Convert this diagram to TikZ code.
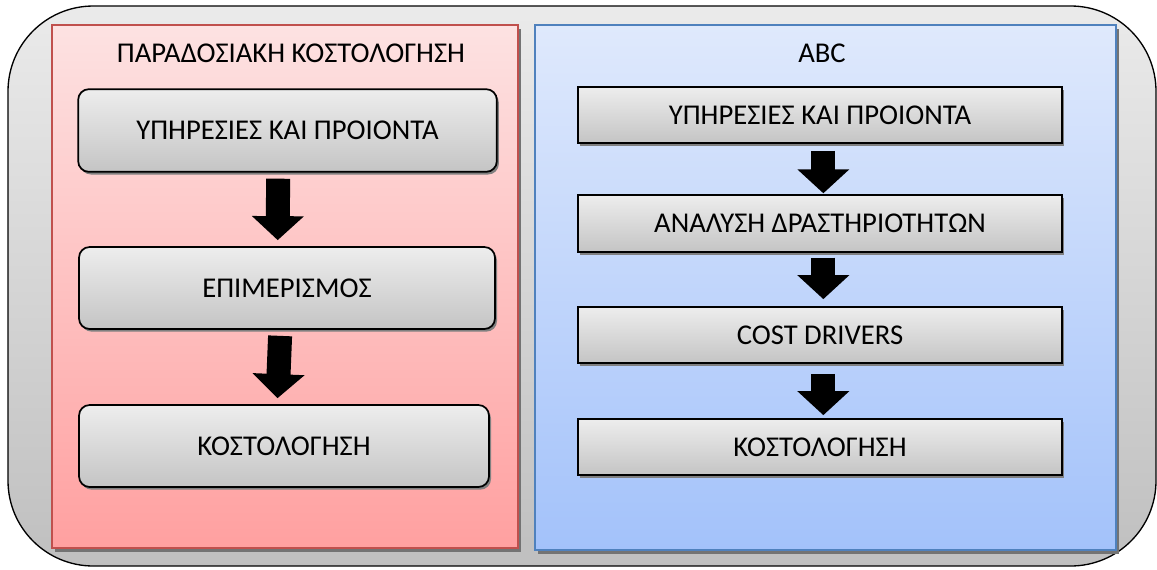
\documentclass[tikz,border=0pt]{standalone}
\usepackage{fontspec}
\setmainfont{Carlito}
\usetikzlibrary{arrows.meta,shadows}

\definecolor{redline}{RGB}{192,80,77}
\definecolor{blueline}{RGB}{79,129,189}

\begin{document}
\begin{tikzpicture}[x=0.75pt, y=-0.75pt,
    panel/.style={line width=1pt, drop shadow={shadow xshift=2pt, shadow yshift=-3pt, fill=black!55, opacity=1}},
    stepbox/.style={draw, line width=1.3pt, top color=black!7, bottom color=black!23,
      drop shadow={shadow xshift=1.5pt, shadow yshift=-2pt, fill=black!50, opacity=1},
      font=\fontsize{21.5}{25}\selectfont, inner sep=0pt},
    roundbox/.style={stepbox, rounded corners=8pt},
    headline/.style={font=\fontsize{21.5}{25}\selectfont, inner sep=0pt},
    blockarrow/.style={line width=18pt, -{Triangle[width=38pt,length=18pt]}}]
      \useasboundingbox (0,0) rectangle (1157,569);

      % frame and the two panels
      \draw[line width=1pt, top color=black!8, bottom color=black!25, rounded corners=64pt]
        (8,6) rectangle (1156,566);
      \draw[panel, draw=redline, top color={rgb,255:red,253;green,226;blue,226},
        bottom color={rgb,255:red,255;green,160;blue,160}] (52,25) rectangle (518,548);
      \draw[panel, draw=blueline, top color={rgb,255:red,223;green,233;blue,252},
        bottom color={rgb,255:red,163;green,194;blue,250}] (535,25) rectangle (1116,550);

      % traditional costing
      \node[headline] (lt) at (291,53) {ΠΑΡΑΔΟΣΙΑΚΗ ΚΟΣΤΟΛΟΓΗΣΗ};
      \node[roundbox, minimum width=314pt, minimum height=62pt] (l1) at (287.5,130.5) {ΥΠΗΡΕΣΙΕΣ ΚΑΙ ΠΡΟΙΟΝΤΑ};
      \node[roundbox, minimum width=312pt, minimum height=61.5pt] (l2) at (287,288) {ΕΠΙΜΕΡΙΣΜΟΣ};
      \node[roundbox, minimum width=307.5pt, minimum height=61.5pt] (l3) at (284,446) {ΚΟΣΤΟΛΟΓΗΣΗ};

      \draw[blockarrow, shorten <=4.5pt, shorten >=4.5pt] ([xshift=-7pt]l1.south) -- ([xshift=-7pt]l2.north);
      \draw[blockarrow, shorten <=4.5pt, shorten >=4.5pt] ([xshift=-5pt]l2.south) -- ([xshift=-5pt]l3.north);

      % ABC
      \node[headline] (rt) at (822,53) {ABC};
      \node[stepbox, minimum width=363pt, minimum height=42pt] (r1) at (820,115) {ΥΠΗΡΕΣΙΕΣ ΚΑΙ ΠΡΟΙΟΝΤΑ};
      \node[stepbox, minimum width=363pt, minimum height=42.5pt] (r2) at (820,223.5) {ΑΝΑΛΥΣΗ ΔΡΑΣΤΗΡΙΟΤΗΤΩΝ};
      \node[stepbox, minimum width=363pt, minimum height=42pt] (r3) at (820,335) {COST DRIVERS};
      \node[stepbox, minimum width=363pt, minimum height=42pt] (r4) at (820,447) {ΚΟΣΤΟΛΟΓΗΣΗ};

      \draw[blockarrow, shorten <=5.25pt, shorten >=0.75pt] ([xshift=2.5pt]r1.south) -- ([xshift=2.5pt]r2.north);
      \draw[blockarrow, shorten <=3.75pt, shorten >=5.25pt] ([xshift=2.5pt]r2.south) -- ([xshift=2.5pt]r3.north);
      \draw[blockarrow, shorten <=7.5pt, shorten >=2.25pt] ([xshift=2.5pt]r3.south) -- ([xshift=2.5pt]r4.north);
\end{tikzpicture}
\end{document}
